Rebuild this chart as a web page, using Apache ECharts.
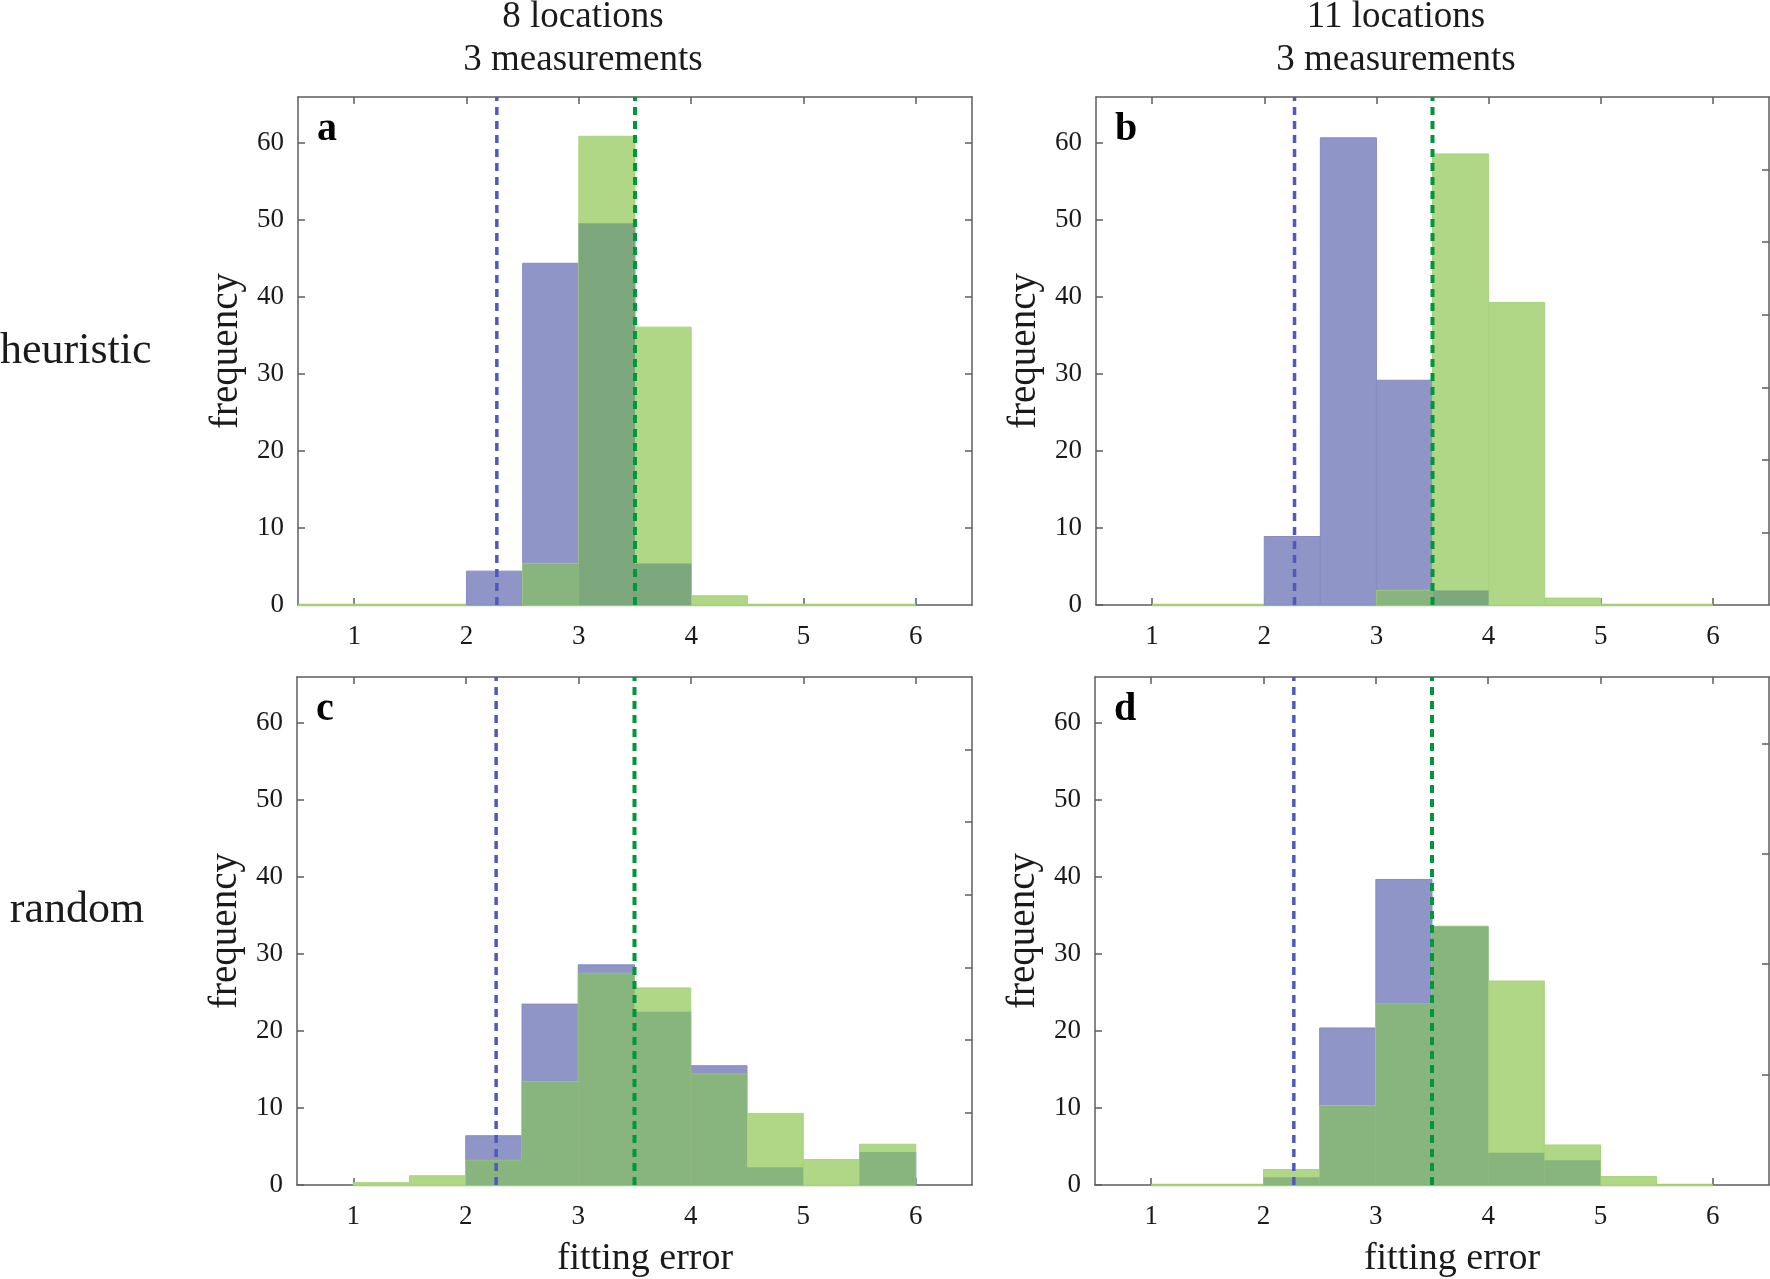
<!DOCTYPE html>
<html>
<head>
<meta charset="utf-8">
<script src="https://cdn.jsdelivr.net/npm/echarts@6/dist/echarts.min.js"></script>
<style>
html,body{margin:0;padding:0;background:#fff;}
#chart{width:1770px;height:1279px;}
</style>
</head>
<body>
<div id="chart"></div>
<script>
// ---- data ----
const binEdges = [0.5, 1, 1.5, 2, 2.5, 3, 3.5, 4, 4.5, 5, 5.5, 6];
const xTicks = [1, 2, 3, 4, 5, 6];
const yTicks = [0, 10, 20, 30, 40, 50, 60];
const yMax = 66;

const aBlue  = [0, 0, 0, 4.4, 44.4, 49.6, 5.4, 0, 0, 0, 0];
const aGreen = [0, 0, 0, 0, 5.4, 60.9, 36.1, 1.2, 0, 0, 0];
const bBlue  = [0, 0, 0, 8.9, 60.7, 29.2, 1.9, 0, 0, 0, 0];
const bGreen = [0, 0, 0, 0, 0, 1.9, 58.6, 39.3, 0.9, 0, 0];
const cBlue  = [0, 0, 0, 6.4, 23.5, 28.6, 22.5, 15.5, 2.3, 0, 4.3];
const cGreen = [0, 0.3, 1.2, 3.2, 13.4, 27.5, 25.6, 14.4, 9.3, 3.3, 5.3];
const dBlue  = [0, 0, 0, 1.0, 20.4, 39.7, 33.6, 4.2, 3.2, 0, 0];
const dGreen = [0, 0, 0, 2.0, 10.3, 23.5, 33.6, 26.5, 5.2, 1.1, 0];

const blueThreshold = 2.27;
const greenThreshold = 3.5;
const greenBaselineStart = [0.5, 1, 1, 1];
const greenBaselineEnd = 6;

const panelLetters = ['a', 'b', 'c', 'd'];
const columnTitles = [['8 locations', '3 measurements'], ['11 locations', '3 measurements']];
const rowLabels = ['heuristic', 'random'];
const yLabel = 'frequency';
const xLabel = 'fitting error';

const panelsBlue = [aBlue, bBlue, cBlue, dBlue];
const panelsGreen = [aGreen, bGreen, cGreen, dGreen];

// ---- layout / style ----
const grids = [
  {left: 298, top: 97, width: 674, height: 508},
  {left: 1096, top: 97, width: 673, height: 508},
  {left: 297, top: 677, width: 675, height: 508},
  {left: 1095, top: 677, width: 674, height: 508}
];
const rightAxisMax = [66, 70, 70, 46];
const FONT = "'Liberation Serif', 'Times New Roman', serif";
const AX = '#5e5e5e';
const TXT = '#1a1a1a';
const BLUE = '#8f95c7', GREEN = '#afd786';
const OV_DARK = '#7da87e', OV_LIGHT = '#87b57d';
const BLUE_LINE = '#4f59bd', GREEN_LINE = '#00963c';

function rectRender(fill, stroke) {
  return function (params, api) {
    const x0 = api.value(0), x1 = api.value(1), v = api.value(2);
    if (!(v > 0)) return null;
    const p0 = api.coord([x0, v]);
    const p1 = api.coord([x1, 0]);
    let f = fill;
    if (typeof fill === 'function') f = fill(api.value(3));
    return {
      type: 'rect',
      shape: {x: p0[0], y: p0[1], width: p1[0] - p0[0], height: p1[1] - p0[1]},
      style: {fill: f, stroke: stroke || null, lineWidth: stroke ? 1 : 0}
    };
  };
}

const xAxes = [], yAxes = [], series = [];
grids.forEach((g, i) => {
  const row = Math.floor(i / 2);
  xAxes.push({
    gridIndex: i, type: 'value', position: 'bottom', min: 0.5, max: 6.5,
    axisLine: {show: true, onZero: false, lineStyle: {color: AX, width: 1.5}},
    axisTick: {show: true, inside: true, length: 7, customValues: xTicks, lineStyle: {color: AX, width: 1.5}},
    axisLabel: {show: true, customValues: xTicks, margin: 18, fontFamily: FONT, fontSize: 27, color: TXT},
    splitLine: {show: false}
  });
  xAxes.push({
    gridIndex: i, type: 'value', position: 'top', min: 0.5, max: 6.5,
    axisLine: {show: true, onZero: false, lineStyle: {color: AX, width: 1.5}},
    axisTick: {show: true, inside: true, length: 7, customValues: xTicks, lineStyle: {color: AX, width: 1.5}},
    axisLabel: {show: false},
    splitLine: {show: false}
  });
  yAxes.push({
    gridIndex: i, type: 'value', position: 'left', min: 0, max: yMax,
    name: yLabel, nameLocation: 'middle', nameGap: 52,
    nameTextStyle: {fontFamily: FONT, fontSize: 39, color: TXT},
    axisLine: {show: true, onZero: false, lineStyle: {color: AX, width: 1.5}},
    axisTick: {show: true, inside: true, length: 7, customValues: yTicks, lineStyle: {color: AX, width: 1.5}},
    axisLabel: {show: true, customValues: yTicks, margin: 14, fontFamily: FONT, fontSize: 27, color: TXT},
    splitLine: {show: false}
  });
  const rm = rightAxisMax[i];
  const rTicks = [];
  for (let t = 10; t < rm; t += 10) rTicks.push(t);
  yAxes.push({
    gridIndex: i, type: 'value', position: 'right', min: 0, max: rm,
    axisLine: {show: true, onZero: false, lineStyle: {color: AX, width: 1.5}},
    axisTick: {show: true, inside: true, length: 7, customValues: rTicks, lineStyle: {color: AX, width: 1.5}},
    axisLabel: {show: false},
    splitLine: {show: false}
  });

  const blue = panelsBlue[i], green = panelsGreen[i];
  const blueData = [], greenData = [], ovData = [];
  for (let k = 0; k < blue.length; k++) {
    const x0 = binEdges[k], x1 = binEdges[k + 1];
    blueData.push([x0, x1, blue[k]]);
    greenData.push([x0, x1, green[k]]);
    const ov = Math.min(blue[k], green[k]);
    const darkFlag = (row === 0 && green[k] > blue[k]) ? 1 : 0;
    ovData.push([x0, x1, ov, darkFlag]);
  }
  const xi = 2 * i, yi = 2 * i;
  series.push({
    type: 'line', xAxisIndex: xi, yAxisIndex: yi, z: 1, symbol: 'none', silent: true,
    data: [[greenBaselineStart[i], 0], [greenBaselineEnd, 0]],
    lineStyle: {color: '#a3cf78', width: 2.5}, clip: false
  });
  series.push({
    type: 'custom', xAxisIndex: xi, yAxisIndex: yi, z: 2, silent: true,
    encode: {x: [0, 1], y: 2}, data: blueData, renderItem: rectRender(BLUE, '#858cc2')
  });
  series.push({
    type: 'custom', xAxisIndex: xi, yAxisIndex: yi, z: 3, silent: true,
    encode: {x: [0, 1], y: 2}, data: greenData, renderItem: rectRender(GREEN, '#a8d37e')
  });
  series.push({
    type: 'custom', xAxisIndex: xi, yAxisIndex: yi, z: 4, silent: true,
    encode: {x: [0, 1], y: 2}, data: ovData,
    renderItem: rectRender(function (flag) { return flag ? OV_DARK : OV_LIGHT; }, null)
  });
  series.push({
    type: 'line', xAxisIndex: xi, yAxisIndex: yi, z: 6, symbol: 'none', silent: true,
    data: [[blueThreshold, 0], [blueThreshold, yMax]],
    lineStyle: {color: BLUE_LINE, width: 3.5, type: [8, 6]}
  });
  series.push({
    type: 'line', xAxisIndex: xi, yAxisIndex: yi, z: 6, symbol: 'none', silent: true,
    data: [[greenThreshold, 0], [greenThreshold, yMax]],
    lineStyle: {color: GREEN_LINE, width: 4, type: [8, 6]}
  });
});

// ---- text graphics ----
const graphics = [];
const titleX = [583, 1396];
titleX.forEach((x, c) => {
  graphics.push({type: 'text', x: x, y: 17, style: {text: columnTitles[c][0], font: "37px " + FONT, fill: TXT, textAlign: 'center', textVerticalAlign: 'middle'}});
  graphics.push({type: 'text', x: x, y: 60, style: {text: columnTitles[c][1], font: "37px " + FONT, fill: TXT, textAlign: 'center', textVerticalAlign: 'middle'}});
});
graphics.push({type: 'text', x: 0, y: 351, style: {text: rowLabels[0], font: "44px " + FONT, fill: TXT, textAlign: 'left', textVerticalAlign: 'middle'}});
graphics.push({type: 'text', x: 77, y: 910, style: {text: rowLabels[1], font: "44px " + FONT, fill: TXT, textAlign: 'center', textVerticalAlign: 'middle'}});
grids.forEach((g, i) => {
  graphics.push({type: 'text', x: g.left + 19, y: g.top + 33, style: {text: panelLetters[i], font: "bold 40px " + FONT, fill: '#000', textAlign: 'left', textVerticalAlign: 'middle'}});
});
graphics.push({type: 'text', x: 645, y: 1259, style: {text: xLabel, font: "38px " + FONT, fill: TXT, textAlign: 'center', textVerticalAlign: 'middle'}});
graphics.push({type: 'text', x: 1452, y: 1259, style: {text: xLabel, font: "38px " + FONT, fill: TXT, textAlign: 'center', textVerticalAlign: 'middle'}});

const chart = echarts.init(document.getElementById('chart'), null, {renderer: 'canvas'});
chart.setOption({
  backgroundColor: '#ffffff',
  animation: false,
  grid: grids,
  xAxis: xAxes,
  yAxis: yAxes,
  series: series,
  graphic: graphics
});
</script>
</body>
</html>
